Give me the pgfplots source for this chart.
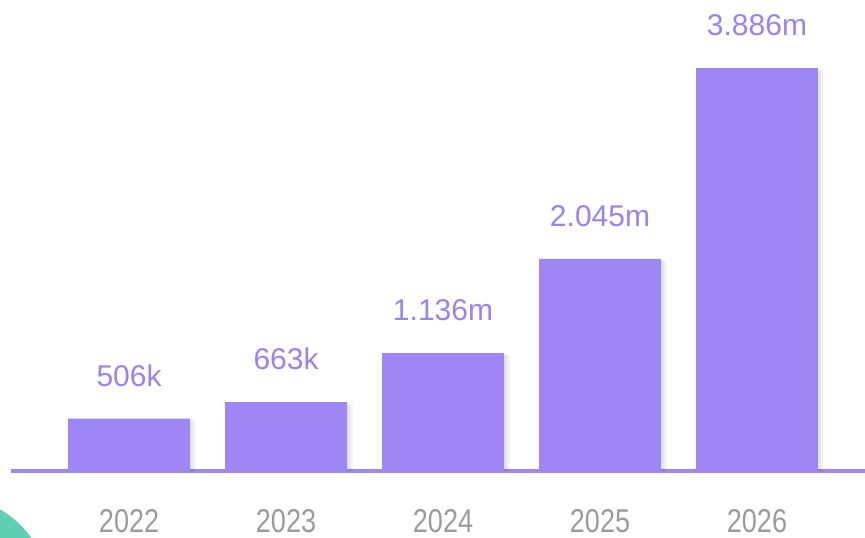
\documentclass[border=0pt]{standalone}
\usepackage{fontspec}
\setmainfont{Liberation Sans}
\newfontfamily\yearfont[FakeStretch=0.82]{Liberation Sans}
\usepackage{pgfplots}
\pgfplotsset{compat=1.18}

\definecolor{barcol}{HTML}{9E87F5}
\definecolor{labcol}{HTML}{9A82F4}
\definecolor{yearcol}{HTML}{9B9B9B}
\definecolor{teal}{HTML}{5FCFB2}

\begin{document}
\begin{tikzpicture}
\useasboundingbox (0,0) rectangle (865bp,538bp);
\fill[teal] (-50bp,-58bp) circle (100bp);
\begin{axis}[
	at={(11bp,67bp)}, anchor=south west,
	scale only axis,
	width=854bp, height=471bp,
	xmin=-0.752, xmax=4.688,
	ymin=0, ymax=4542,
	axis x line=bottom,
	axis y line=none,
	x axis line style={-, draw=barcol, line width=3bp},
	major tick length=0pt,
	xtick=data,
	xticklabels={2022,2023,2024,2025,2026},
	xticklabel style={anchor=base, yshift=-61bp, text=yearcol,
		font=\yearfont\fontsize{33bp}{36bp}\selectfont},
	ytick=\empty,
	clip=false,
	ybar, bar width=0.777,
	point meta=explicit symbolic,
]
% soft shadow, faint layers offset to the lower right
\addplot[fill=black, fill opacity=0.05, draw=none, bar shift=0.035, forget plot]
	coordinates {(0,486) (1,643) (2,1116) (3,2025) (4,3866)};
\addplot[fill=black, fill opacity=0.05, draw=none, bar shift=0.02, forget plot]
	coordinates {(0,494) (1,651) (2,1124) (3,2033) (4,3874)};
\addplot[fill=barcol, draw=none, bar shift=0,
	nodes near coords,
	every node near coord/.append style={anchor=center, yshift=43bp,
		text=labcol, font=\fontsize{30bp}{36bp}\selectfont}]
	coordinates {(0,506) [506k] (1,663) [663k] (2,1136) [1.136m]
		(3,2045) [2.045m] (4,3886) [3.886m]};
\end{axis}
\end{tikzpicture}
\end{document}
